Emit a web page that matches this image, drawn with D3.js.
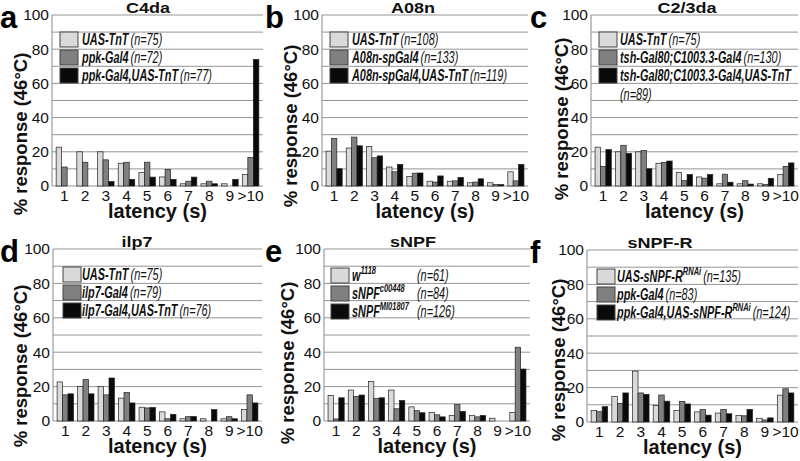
<!DOCTYPE html>
<html><head><meta charset="utf-8">
<script src="https://cdn.jsdelivr.net/npm/d3@7"></script>
<style>
html,body{margin:0;padding:0;background:#fff;}
svg{display:block;}
svg text{font-family:"Liberation Sans",Arial,Helvetica,sans-serif;}
</style></head>
<body>
<svg id="chart" width="800" height="461"></svg>
<script>
// ---------- data ----------
const categories = ["1","2","3","4","5","6","7","8","9",">10"];
const yTickLabels = [0,20,40,60,80,100];
const gridValues = [0,10,20,30,40,50,60,70,80,90,100];
const panelLetters = ["a","b","c","d","e","f"];
const panelTitles = ["C4da","A08n","C2/3da","ilp7","sNPF","sNPF-R"];

// a: C4da
const c4daUasTnT   = [22.7,20.0,20.0,13.3,8.0,5.3,1.3,1.3,1.3,6.7];
const c4daPpkGal4  = [11.1,13.9,15.3,13.9,13.9,9.7,2.8,2.8,0,16.7];
const c4daPpkTnT   = [0,0,2.6,3.9,5.2,3.9,5.2,1.3,3.9,74.0];
// b: A08n
const a08nUasTnT   = [20.4,22.2,23.1,11.1,5.6,2.8,2.8,1.9,1.9,8.3];
const a08nSpGal4   = [27.8,28.6,16.5,8.3,7.5,2.3,3.0,2.3,0.8,3.0];
const a08nSpTnT    = [10.1,23.5,17.6,12.6,7.6,5.9,5.0,4.2,0.8,12.6];
// c: C2/3da
const c23UasTnT    = [22.7,20.0,20.0,13.3,8.0,5.3,1.3,1.3,1.3,6.7];
const c23Gal4      = [11.5,23.8,20.8,13.8,3.1,4.6,6.9,3.1,0.8,11.5];
const c23TnT       = [21.3,19.1,10.1,14.6,6.7,6.7,2.2,1.1,4.5,13.5];
// d: ilp7
const ilp7UasTnT   = [22.7,20.0,20.0,13.3,8.0,5.3,1.3,1.3,1.3,6.7];
const ilp7Gal4     = [15.2,24.1,15.2,16.5,7.6,1.3,2.5,0,2.5,15.2];
const ilp7TnT      = [15.8,15.8,25.0,10.5,7.9,3.9,2.6,6.6,1.3,10.5];
// e: sNPF
const snpfW1118    = [14.8,18.0,23.0,18.0,8.2,4.9,3.3,3.3,1.6,4.9];
const snpfC00448   = [1.2,14.3,13.1,7.1,6.0,3.6,9.5,2.4,0,42.9];
const snpfMI01807  = [13.5,15.1,13.5,11.9,4.8,2.4,5.6,3.2,0,30.2];
// f: sNPF-R
const snpfrUasRNAi = [6.7,14.8,29.6,9.6,6.7,5.9,5.2,3.7,2.2,15.6];
const snpfrPpkGal4 = [6.0,10.8,16.9,15.7,12.0,7.2,7.2,3.6,1.2,19.3];
const snpfrPpkRNAi = [8.9,16.9,16.1,12.1,10.5,4.0,4.8,7.3,2.4,16.9];

// legend labels: [name, superscript, n]
const legendA = [["UAS-TnT","","(n=75)"],["ppk-Gal4","","(n=72)"],["ppk-Gal4,UAS-TnT","","(n=77)"]];
const legendB = [["UAS-TnT","","(n=108)"],["A08n-spGal4","","(n=133)"],["A08n-spGal4,UAS-TnT","","(n=119)"]];
const legendC = [["UAS-TnT","","(n=75)"],["tsh-Gal80;C1003.3-Gal4","","(n=130)"],["tsh-Gal80;C1003.3-Gal4,UAS-TnT","","(n=89)"]];
const legendD = [["UAS-TnT","","(n=75)"],["ilp7-Gal4","","(n=79)"],["ilp7-Gal4,UAS-TnT","","(n=76)"]];
const legendE = [["w","1118","(n=61)"],["sNPF","c00448","(n=84)"],["sNPF","MI01807","(n=126)"]];
const legendF = [["UAS-sNPF-R","RNAi","(n=135)"],["ppk-Gal4","","(n=83)"],["ppk-Gal4,UAS-sNPF-R","RNAi","(n=124)"]];

const seriesColors = ["#d9d9d9","#808080","#0a0a0a"];
const FONT = "Liberation Sans, Arial, Helvetica, sans-serif";

// ---------- layout ----------
const panels = [
  {ox:0,  oy:0,   left:52, right:263, top:15, bottom:186, series:[c4daUasTnT,c4daPpkGal4,c4daPpkTnT], legend:legendA, tX:148, ytX:20, ytY:134, boxX:60, boxY:32, txtX:82},
  {ox:265,oy:0,   left:57, right:263, top:15, bottom:186, series:[a08nUasTnT,a08nSpGal4,a08nSpTnT],  legend:legendB, tX:148, ytX:25, ytY:126, boxX:65, boxY:32, txtX:87},
  {ox:530,oy:0,   left:61, right:268, top:15, bottom:186, series:[c23UasTnT,c23Gal4,c23TnT],         legend:legendC, tX:157, ytX:31, ytY:119, boxX:69, boxY:32, txtX:90, wrap:true},
  {ox:0,  oy:230, left:53, right:262, top:19, bottom:191, series:[ilp7UasTnT,ilp7Gal4,ilp7TnT],      legend:legendD, tX:137, ytX:20, ytY:136, boxX:63, boxY:37, txtX:82},
  {ox:265,oy:230, left:59, right:265, top:19, bottom:191, series:[snpfW1118,snpfC00448,snpfMI01807], legend:legendE, tX:148, ytX:22, ytY:133, boxX:66, boxY:38, txtX:87, nX:152},
  {ox:530,oy:230, left:57, right:268, top:20, bottom:192, series:[snpfrUasRNAi,snpfrPpkGal4,snpfrPpkRNAi], legend:legendF, tX:130, ytX:28, ytY:130, boxX:67, boxY:39, txtX:87}
];
const LSCALE = 0.68;

const svg = d3.select("#chart");

panels.forEach((p, pi) => {
  const g = svg.append("g").attr("transform", `translate(${p.ox},${p.oy})`);
  const y = d3.scaleLinear().domain([0,100]).range([p.bottom, p.top]);
  const x = d3.scaleBand().domain(categories).range([p.left, p.right]).paddingInner(0.2).paddingOuter(0.2);
  const xs = d3.scaleBand().domain([0,1,2]).range([0, x.bandwidth()]).padding(0);

  // gridlines
  g.append("g").selectAll("line").data(gridValues).join("line")
    .attr("x1", p.left).attr("x2", p.right)
    .attr("y1", d => y(d)).attr("y2", d => y(d))
    .attr("stroke", "#959595").attr("stroke-width", 1);
  // left axis line
  g.append("line").attr("x1", p.left).attr("x2", p.left).attr("y1", y(100)).attr("y2", y(0))
    .attr("stroke", "#888").attr("stroke-width", 1);

  // y tick labels via axis
  const yAxis = d3.axisLeft(y).tickValues(yTickLabels).tickSize(0).tickPadding(3);
  const ya = g.append("g").attr("transform", `translate(${p.left},0)`).call(yAxis)
    .attr("font-family", FONT).attr("font-size", 15.5);
  ya.select(".domain").remove();
  ya.selectAll("text").attr("fill", "#111");

  // x tick labels via axis
  const xAxis = d3.axisBottom(x).tickSize(0).tickPadding(4);
  const xa = g.append("g").attr("transform", `translate(0,${p.bottom})`).call(xAxis)
    .attr("font-family", FONT).attr("font-size", 15.5);
  xa.select(".domain").remove();
  xa.selectAll("text").attr("fill", "#111");

  // bars
  p.series.forEach((s, si) => {
    g.append("g").selectAll("rect").data(s).join("rect")
      .attr("x", (d, i) => x(categories[i]) + xs(si))
      .attr("y", d => y(d))
      .attr("width", xs.bandwidth())
      .attr("height", d => y(0) - y(d))
      .attr("fill", seriesColors[si])
      .attr("stroke", d => d > 0 ? "#222" : "none")
      .attr("stroke-width", 0.7);
  });

  // panel letter
  g.append("text").attr("x", 0).attr("y", p.top + 13).attr("font-size", 31).attr("font-weight", "bold")
    .attr("font-family", FONT).attr("fill", "#000").text(panelLetters[pi]);
  // title
  g.append("text").attr("transform", `translate(${p.tX},${p.top - 2}) scale(1.2,1)`).attr("text-anchor", "middle")
    .attr("font-family", FONT).attr("font-size", 15).attr("font-weight", "bold").attr("fill", "#111").text(panelTitles[pi]);
  // y axis title
  g.append("text").attr("transform", `translate(${p.ytX + 7},${p.ytY}) rotate(-90)`)
    .attr("text-anchor", "middle").attr("font-family", FONT).attr("font-size", 18.5).attr("font-weight", "bold").attr("fill", "#111")
    .text("% response (46°C)");
  // x axis title
  g.append("text").attr("x", (p.left + p.right) / 2).attr("y", p.bottom + 32).attr("text-anchor", "middle")
    .attr("font-family", FONT).attr("font-size", 20).attr("font-weight", "bold").attr("fill", "#111").text("latency (s)");

  // legend
  p.legend.forEach((L, li) => {
    const by = p.boxY + li * 18;
    g.append("rect").attr("x", p.boxX).attr("y", by).attr("width", 18).attr("height", 15)
      .attr("fill", seriesColors[li]).attr("stroke", "#444").attr("stroke-width", 1);
    const t = g.append("text").attr("transform", `translate(${p.txtX},${by + 13}) scale(${LSCALE},1)`)
      .attr("font-family", FONT).attr("font-size", 16).attr("fill", "#111");
    t.append("tspan").attr("font-weight", "bold").attr("font-style", "italic").text(L[0]);
    if (L[1]) {
      t.append("tspan").attr("font-weight", "bold").attr("font-style", "italic").attr("font-size", 11)
        .attr("dy", -7).text(L[1]);
    }
    if (p.nX) {
      g.append("text").attr("transform", `translate(${p.nX},${by + 13}) scale(${LSCALE},1)`)
        .attr("font-family", FONT).attr("font-size", 16).attr("font-style", "italic").attr("fill", "#111").text(L[2]);
    } else if (p.wrap && li === 2) {
      g.append("text").attr("transform", `translate(${p.txtX},${by + 32}) scale(${LSCALE},1)`)
        .attr("font-family", FONT).attr("font-size", 16).attr("font-style", "italic").attr("fill", "#111").text(L[2]);
    } else {
      t.append("tspan").attr("font-style", "italic").attr("dx", 3).attr("dy", L[1] ? 7 : 0).text(L[2]);
    }
  });
});
</script>
</body></html>
